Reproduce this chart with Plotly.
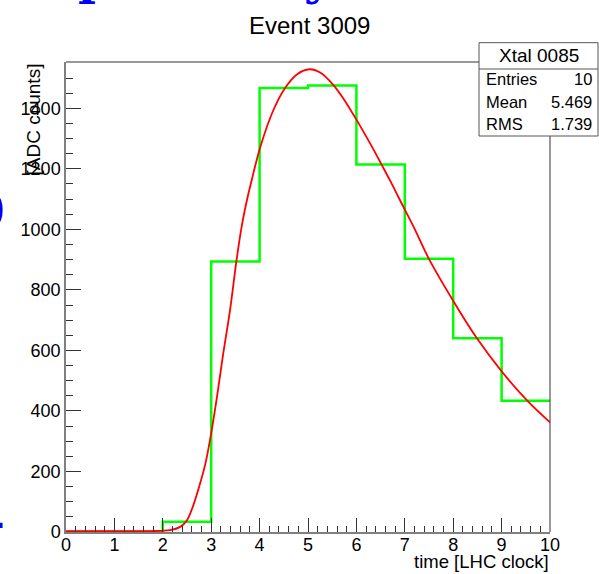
import plotly.graph_objects as go

# ---------------- data ----------------
bin_edges = [0, 1, 2, 3, 4, 5, 6, 7, 8, 9, 10]
bin_counts = [1, 1, 34, 894, 1467, 1475, 1214, 903, 640, 434]

fit_t = [0.0, 1.0, 1.74, 2.15, 2.36, 2.50, 2.63, 2.77, 2.88, 3.00, 3.12, 3.25,
         3.39, 3.52, 3.63, 3.74, 3.84, 4.01, 4.29, 4.53, 4.77, 5.03, 5.25,
         5.53, 5.74, 5.87, 6.01, 6.18, 6.36, 6.52, 6.70, 6.87, 7.03, 7.22,
         7.49, 8.03, 8.49, 9.03, 9.53, 10.0]
fit_v = [3, 3, 3, 6, 17, 39, 88, 160, 226, 326, 447, 591,
         734, 894, 1010, 1098, 1165, 1270, 1396, 1468, 1512, 1529, 1518,
         1476, 1430, 1397, 1360, 1313, 1262, 1214, 1160, 1106, 1056, 996,
         905, 756, 640, 525, 434, 362]

title_text = "Event 3009"
stats_title = "Xtal 0085"
stats_labels = ["Entries", "Mean", "RMS"]
stats_values = ["10", "5.469", "1.739"]
x_title = "time [LHC clock]"
y_title = "[ADC counts]"

# ---------------- layout helpers ----------------
W, H = 599, 574
ML, MR, MT, MB = 66, 49, 62, 42
PW, PH = W - ML - MR, H - MT - MB


def px(x):
    return (x - ML) / PW


def py(y):
    return (H - MB - y) / PH


FONT = "Liberation Sans, Arial, Helvetica, sans-serif"

fig = go.Figure()

# histogram (step)
fig.add_trace(go.Scatter(
    x=bin_edges,
    y=bin_counts + [bin_counts[-1]],
    mode="lines",
    line=dict(color="#00ff00", width=2.5, shape="hv"),
    hoverinfo="skip",
    showlegend=False,
))

# fit curve
fig.add_trace(go.Scatter(
    x=fit_t,
    y=fit_v,
    mode="lines",
    line=dict(color="#ff0000", width=1.8, shape="spline", smoothing=0.9),
    hoverinfo="skip",
    showlegend=False,
))

axis_common = dict(
    showgrid=False,
    zeroline=False,
    showline=True,
    linecolor="#808080",
    linewidth=1.5,
    ticks="inside",
    tickcolor="#333333",
    tickwidth=1,
    tickfont=dict(family=FONT, size=18, color="black"),
)

fig.update_xaxes(
    range=[0, 10],
    dtick=1,
    tick0=0,
    ticklen=14,
    ticklabelstandoff=-4,
    minor=dict(ticks="inside", dtick=0.2, ticklen=6, tickcolor="#333333",
               tickwidth=1, showgrid=False),
    **axis_common,
)
fig.update_yaxes(
    range=[0, 1553],
    dtick=200,
    tick0=0,
    ticklen=15,
    minor=dict(ticks="inside", dtick=50, ticklen=7, tickcolor="#333333",
               tickwidth=1, showgrid=False),
    **axis_common,
)

shapes = [
    # top and right frame
    dict(type="line", xref="paper", yref="paper", x0=0, x1=1, y0=1, y1=1,
         line=dict(color="#333333", width=1)),
    dict(type="line", xref="paper", yref="paper", x0=1, x1=1, y0=0, y1=1,
         line=dict(color="#333333", width=1)),
    # stats box
    dict(type="rect", xref="paper", yref="paper",
         x0=px(479), x1=px(598), y0=py(136), y1=py(42.7),
         line=dict(color="#555555", width=1), fillcolor="white", layer="above"),
    dict(type="line", xref="paper", yref="paper",
         x0=px(479), x1=px(598), y0=py(69), y1=py(69),
         line=dict(color="#555555", width=1), layer="above"),
]

annotations = [
    dict(text=title_text, xref="paper", yref="paper", x=px(309), y=py(25),
         xanchor="center", yanchor="middle", showarrow=False,
         font=dict(family=FONT, size=24, color="black")),
    dict(text=x_title, xref="paper", yref="paper", x=px(551), y=py(561),
         xanchor="right", yanchor="middle", showarrow=False,
         font=dict(family=FONT, size=18.5, color="black")),
    dict(text=y_title, xref="paper", yref="paper", x=px(32.5), y=1,
         xanchor="center", yanchor="top", textangle=-90, showarrow=False,
         font=dict(family=FONT, size=19, color="black")),
    dict(text=stats_title, xref="paper", yref="paper", x=px(539), y=py(55),
         xanchor="center", yanchor="middle", showarrow=False,
         font=dict(family=FONT, size=19, color="black")),
]
row_y = [79, 101.5, 124]
for lab, val, yy in zip(stats_labels, stats_values, row_y):
    annotations.append(dict(text=lab, xref="paper", yref="paper", x=px(484),
                            y=py(yy), xanchor="left", yanchor="middle",
                            showarrow=False,
                            font=dict(family=FONT, size=16.5, color="black")))
    annotations.append(dict(text=val, xref="paper", yref="paper", x=px(594),
                            y=py(yy), xanchor="right", yanchor="middle",
                            showarrow=False,
                            font=dict(family=FONT, size=16.5, color="black")))

# partially visible blue overlapping text fragments
SERIF = "DejaVu Serif, Liberation Serif, serif"
annotations += [
    dict(text="<b>p</b>", xref="paper", yref="paper", x=px(95), y=py(-22.5),
         xanchor="center", yanchor="middle", showarrow=False,
         font=dict(family=SERIF, size=48, color="#0000ff")),
    dict(text="<b>y</b>", xref="paper", yref="paper", x=px(318), y=py(-22.5),
         xanchor="center", yanchor="middle", showarrow=False,
         font=dict(family=SERIF, size=48, color="#0000ff")),
    dict(text="<b>O</b>", xref="paper", yref="paper", x=px(8), y=py(211),
         xanchor="right", yanchor="middle", showarrow=False,
         font=dict(family=SERIF, size=66, color="#0000ff")),
    dict(text="<b>-</b>", xref="paper", yref="paper", x=px(7), y=py(521),
         xanchor="right", yanchor="middle", showarrow=False,
         font=dict(family=SERIF, size=40, color="#0000ff")),
]

fig.update_layout(
    width=W, height=H,
    margin=dict(l=ML, r=MR, t=MT, b=MB, pad=0),
    paper_bgcolor="white",
    plot_bgcolor="white",
    shapes=shapes,
    annotations=annotations,
    showlegend=False,
)

fig.write_html("out.html")
